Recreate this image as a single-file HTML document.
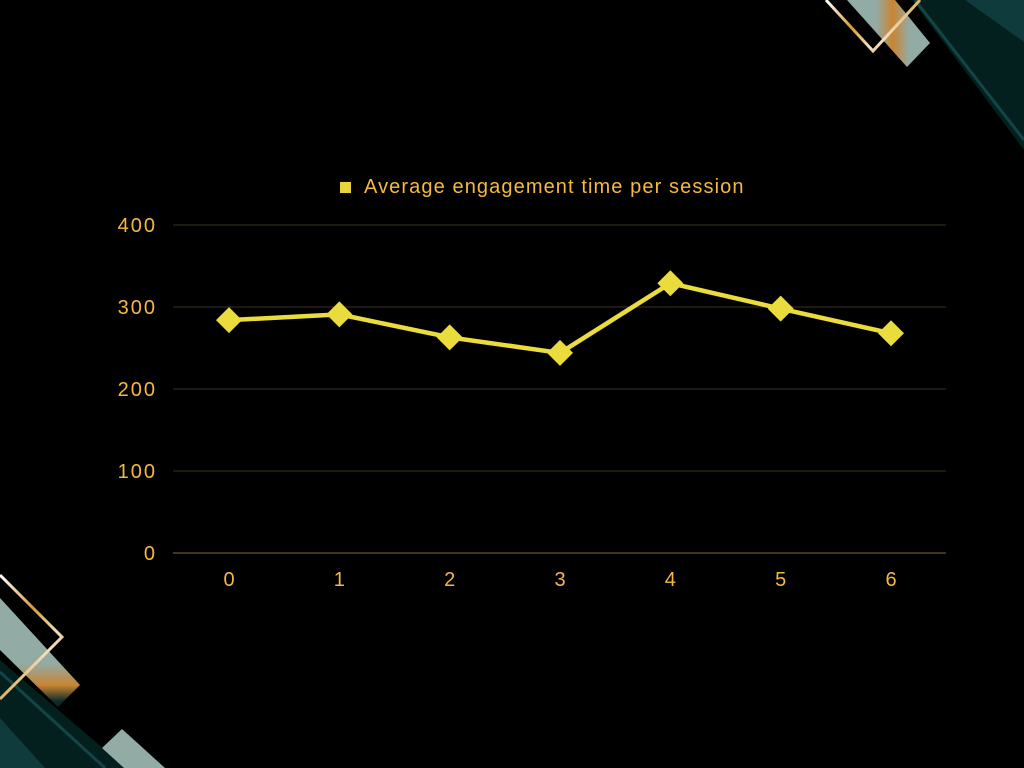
<!DOCTYPE html>
<html><head><meta charset="utf-8"><style>
html,body{margin:0;padding:0;background:#000;width:1024px;height:768px;overflow:hidden}
svg{display:block}
text{font-family:"Liberation Sans",sans-serif}
</style></head><body>
<svg id="chart" width="1024" height="768" viewBox="0 0 1024 768">
<defs>
<linearGradient id="gold" x1="0" y1="0" x2="1" y2="1"><stop offset="0" stop-color="#fff"/><stop offset="0.4" stop-color="#d99a3a"/><stop offset="0.7" stop-color="#f3e0c0"/><stop offset="1" stop-color="#c98a30"/></linearGradient>
<linearGradient id="band1" x1="0" y1="0" x2="1" y2="0"><stop offset="0.35" stop-color="#93aba5"/><stop offset="0.55" stop-color="#c98533"/><stop offset="0.75" stop-color="#93aba5"/></linearGradient>
<linearGradient id="band2" x1="0" y1="0" x2="0" y2="1"><stop offset="0.6" stop-color="#93aba5"/><stop offset="0.8" stop-color="#c98533"/><stop offset="0.95" stop-color="#0a2a2a"/></linearGradient>
</defs>
<g>
<polygon points="912,0 1024,0 1024,150" fill="#03201e"/>
<polygon points="965,0 1024,0 1024,42" fill="#0f3b3d"/>
<line x1="915" y1="0" x2="1024" y2="140" stroke="#134446" stroke-width="3"/>
<polygon points="847,0 895,0 930,43 907,67" fill="url(#band1)"/>
<polyline points="826,0 873,51 920,0" fill="none" stroke="url(#gold)" stroke-width="3"/>
</g>
<g>
<polygon points="0,598 80,685 58,707 0,650" fill="url(#band2)"/>
<polygon points="0,660 126,768 0,768" fill="#03201e"/>
<polygon points="0,718 45,768 0,768" fill="#0f3b3d"/>
<line x1="0" y1="672" x2="105" y2="768" stroke="#134446" stroke-width="3"/>
<polygon points="102,748 122,729 165,768 124,768" fill="#93aba5"/>
<polyline points="0,575 62,637 0,699" fill="none" stroke="url(#gold)" stroke-width="3"/>
</g>
<g>
<rect x="340" y="182" width="11" height="11" fill="#e8d43a"/>
<text x="364" y="193" font-size="20" letter-spacing="1.1" fill="#f5b942">Average engagement time per session</text>
</g>
<g id="grid"></g>
<g id="yticks"></g>
<g id="xticks"></g>
<g id="series"></g>
</svg>
<script>
const categories=[0,1,2,3,4,5,6];
const values=[284,291,263,244,329,298,268];
const yTicks=[0,100,200,300,400];
const NS="http://www.w3.org/2000/svg";
const x=i=>229+i*(891-229)/6;
const y=v=>553-v*(553-225)/400;
function mk(tag,attrs,parent){const e=document.createElementNS(NS,tag);for(const k in attrs)e.setAttribute(k,attrs[k]);parent.appendChild(e);return e;}
const grid=document.getElementById('grid'),yt=document.getElementById('yticks'),xt=document.getElementById('xticks'),se=document.getElementById('series');
yTicks.forEach(t=>{
 const l=mk('line',{x1:173,x2:946,y1:y(t),y2:y(t),stroke:t===0?'#8a6a2a':'#3a3020','stroke-width':1},grid);
 
 
 const tx=mk('text',{x:157,y:y(t)+7,'text-anchor':'end','font-size':20,'letter-spacing':2,fill:'#f5b942'},yt);
 tx.textContent=t;
 
 
});
categories.forEach((c,i)=>{
 const tx=mk('text',{x:x(i),y:586,'text-anchor':'middle','font-size':20,fill:'#f5b942'},xt);
 tx.textContent=c;
 
 
});
const pl=mk('polyline',{points:values.map((v,i)=>x(i)+','+y(v)).join(' '),fill:'none',stroke:'#e9dc3c','stroke-width':4.5,'stroke-linejoin':'round'},se);


values.forEach((v,i)=>{
 const cx=x(i),cy=y(v),r=13;
 const p=mk('polygon',{points:`${cx},${cy-r} ${cx+r},${cy} ${cx},${cy+r} ${cx-r},${cy}`,fill:'#e9dc3c'},se);
 
 
});
</script>
</body></html>
